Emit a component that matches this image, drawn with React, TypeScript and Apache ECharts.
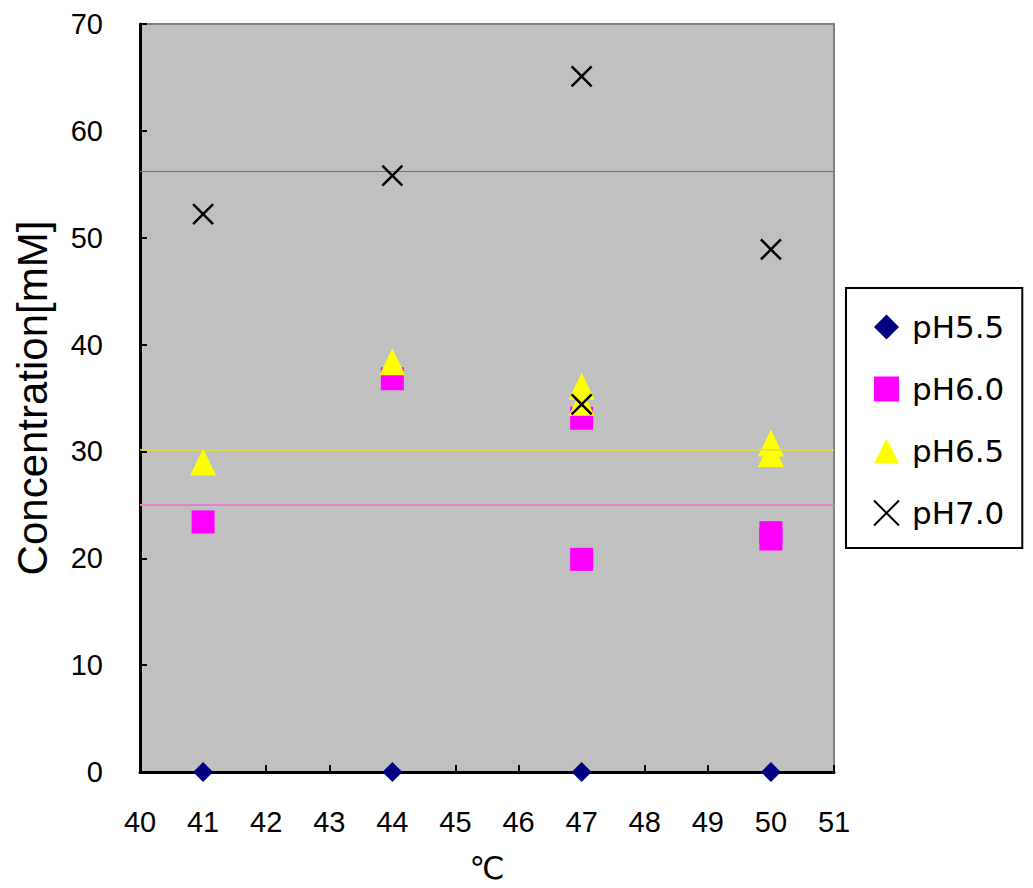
import React, { useEffect, useRef } from "react";
import * as echarts from "echarts";

const seriesNames = ["pH5.5", "pH6.0", "pH6.5", "pH7.0"];
const xTicks = [40, 41, 42, 43, 44, 45, 46, 47, 48, 49, 50, 51];
const yTicks = [0, 10, 20, 30, 40, 50, 60, 70];

const ph55: [number, number][] = [
  [41, 0],
  [44, 0],
  [47, 0],
  [50, 0],
];
const ph60: [number, number][] = [
  [41, 23.4],
  [44, 36.8],
  [47, 33.1],
  [47, 19.9],
  [50, 22.4],
  [50, 21.8],
];
const ph65: [number, number][] = [
  [41, 29.0],
  [44, 38.4],
  [47, 36.1],
  [47, 34.6],
  [50, 30.8],
  [50, 29.8],
];
const ph70: [number, number][] = [
  [41, 52.2],
  [44, 55.8],
  [47, 65.1],
  [47, 34.4],
  [50, 48.9],
];
const refLines = { ph60: 25.0, ph65: 30.2, ph70: 56.2 };

const X_ICON = "path://M0,0L10,10M10,0L0,10";

export default function App() {
  const ref = useRef<HTMLDivElement>(null);
  useEffect(() => {
    if (!ref.current) return;
    const chart = echarts.init(ref.current, null, { renderer: "svg" });
    const tickFont = { fontFamily: "Liberation Sans, Arial, sans-serif", fontSize: 29, color: "#000" };
    const mk = (v: number, color: string, width: number) => ({
      silent: true,
      symbol: "none",
      label: { show: false },
      emphasis: { disabled: true },
      lineStyle: { color, width, type: "solid", opacity: 1 },
      data: [{ yAxis: v }],
    });
    chart.setOption({
      animation: false,
      backgroundColor: "#fff",
      grid: {
        left: 140,
        top: 24,
        right: 199,
        bottom: 116,
        containLabel: false,
        outerBoundsMode: "none",
        show: true,
        backgroundColor: "#C0C0C0",
        borderColor: "#808080",
        borderWidth: 2,
      },
      legend: {
        orient: "vertical",
        left: 846,
        top: 288,
        padding: [21, 18, 17, 873 - 846],
        borderColor: "#000",
        borderWidth: 2,
        backgroundColor: "#fff",
        itemWidth: 25,
        itemHeight: 25,
        itemGap: 26,
        textStyle: {
          fontFamily: "DejaVu Sans, sans-serif",
          fontSize: 31,
          color: "#000",
          lineHeight: 36,
          padding: [0, 0, 0, 8],
        },
        data: seriesNames,
      },
      xAxis: {
        type: "value",
        min: xTicks[0],
        max: xTicks[xTicks.length - 1],
        interval: 1,
        name: "℃",
        nameLocation: "middle",
        nameGap: 80,
        nameTextStyle: { fontFamily: "DejaVu Sans, sans-serif", fontSize: 31, color: "#000" },
        axisLine: { show: true, onZero: false, lineStyle: { color: "#000", width: 3 } },
        axisTick: { show: true, inside: true, length: 7, lineStyle: { color: "#000", width: 2 } },
        axisLabel: { ...tickFont, margin: 35 },
        splitLine: { show: false },
      },
      yAxis: {
        type: "value",
        min: yTicks[0],
        max: yTicks[yTicks.length - 1],
        interval: 10,
        name: "Concentration[mM]",
        nameLocation: "middle",
        nameGap: 87,
        nameTextStyle: { fontFamily: "Liberation Sans, Arial, sans-serif", fontSize: 42, color: "#000" },
        axisLine: { show: true, lineStyle: { color: "#000", width: 3 } },
        axisTick: { show: true, inside: true, length: 7, lineStyle: { color: "#000", width: 2 } },
        axisLabel: { ...tickFont, margin: 37 },
        splitLine: { show: false },
      },
      series: [
        {
          name: seriesNames[0],
          type: "scatter",
          symbol: "diamond",
          symbolSize: 20,
          itemStyle: { color: "#000080", opacity: 1 },
          data: ph55,
          z: 5,
        },
        {
          name: seriesNames[1],
          type: "scatter",
          symbol: "rect",
          symbolSize: 23,
          itemStyle: { color: "#FF00FF", opacity: 1 },
          data: ph60,
          markLine: mk(refLines.ph60, "#E080D8", 2),
          z: 3,
        },
        {
          name: seriesNames[2],
          type: "scatter",
          symbol: "triangle",
          symbolSize: [26, 27],
          itemStyle: { color: "#FFFF00", opacity: 1 },
          data: ph65,
          markLine: mk(refLines.ph65, "#E0E020", 1.5),
          z: 4,
        },
        {
          name: seriesNames[3],
          type: "scatter",
          symbol: X_ICON,
          symbolSize: 20,
          itemStyle: { color: "#000", borderColor: "#000", borderWidth: 2.5, opacity: 1 },
          data: ph70,
          markLine: mk(refLines.ph70, "#707070", 1),
          z: 6,
        },
      ],
    });
    return () => chart.dispose();
  }, []);
  return (
    <div
      ref={ref}
      style={{ position: "absolute", left: 0, top: 0, width: 1033, height: 888 }}
    />
  );
}
